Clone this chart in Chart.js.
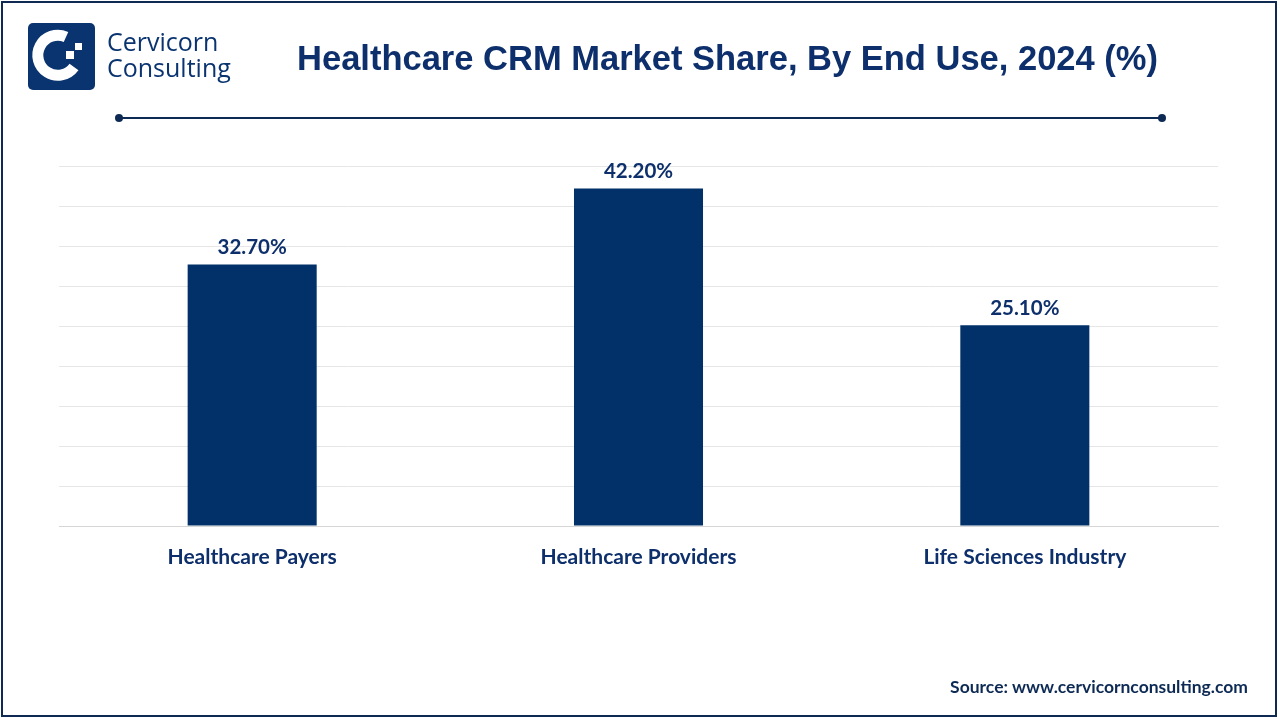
<!DOCTYPE html>
<html>
<head>
<meta charset="utf-8">
<script src="https://cdn.jsdelivr.net/npm/chart.js@4"></script>
<style>
  body { margin: 0; width: 1280px; height: 720px; background: #fff; overflow: hidden; }
  #frame { position: absolute; left: 1px; top: 1px; width: 1272px; height: 712px; border: 2px solid #0e2a52; }
  #chartBox { position: absolute; left: 0; top: 0; width: 1280px; height: 720px; }
  .logo { position: absolute; left: 28px; top: 23px; width: 67px; height: 67px; background: #0a3470; border-radius: 5px; }
  .logoText { position: absolute; left: 107px; top: 28px; font-family: "Open Sans", sans-serif; font-size: 25px; line-height: 26px; color: #0a3470; font-weight: 500; }
  .title { position: absolute; left: 0; width: 1455px; top: 39px; text-align: center; font-family: "Liberation Sans", Arial, sans-serif; font-weight: bold; font-size: 34.5px; color: #0d2f6b; }
  .rule { position: absolute; left: 119px; top: 117px; width: 1043px; height: 2px; background: #0d2a55; }
  .dot { position: absolute; top: 114px; width: 8px; height: 8px; border-radius: 50%; background: #0d2a55; }
  .source { position: absolute; right: 32px; top: 676px; font-family: Lato, sans-serif; font-weight: bold; font-size: 17.5px; color: #0d2a55; }
</style>
</head>
<body>
<div id="chartBox"><canvas id="chart" width="1280" height="720"></canvas></div>
<div id="frame"></div>
<div class="logo">
  <svg width="67" height="67" viewBox="0 0 67 67">
    <path d="M38 14 A20 20 0 1 0 46 44" fill="none" stroke="#fff" stroke-width="11"/>
    <rect x="38" y="28" width="8" height="8" fill="#fff"/>
    <rect x="47" y="20" width="7" height="7" fill="#fff"/>
  </svg>
</div>
<div class="logoText">Cervicorn<br>Consulting</div>
<div class="title">Healthcare CRM Market Share, By End Use, 2024 (%)</div>
<div class="rule"></div>
<div class="dot" style="left:115px"></div>
<div class="dot" style="left:1158px"></div>
<div class="source">Source: www.cervicornconsulting.com</div>

<script>
// données du graphique
let categories = ["Healthcare Payers", "Healthcare Providers", "Life Sciences Industry"];
let shares = [32.7, 42.2, 25.1];
let yMax = 45;
let yStep = 5;

// affiche les valeurs au-dessus des barres
const valueLabels = {
  id: 'valueLabels',
  afterDatasetsDraw(chart) {
    const ctx = chart.ctx;
    const meta = chart.getDatasetMeta(0);
    ctx.save();
    ctx.font = "bold 20.5px Lato, sans-serif";
    ctx.fillStyle = "#0d2f6b";
    ctx.textAlign = "center";
    ctx.textBaseline = "bottom";
    meta.data.forEach((bar, i) => {
      ctx.fillText(shares[i].toFixed(2) + "%", bar.x, bar.y - 7);
    });
    ctx.restore();
  }
};

let ctx = document.querySelector("#chart");

new Chart(ctx, {
  type: 'bar',
  data: {
    labels: categories,
    datasets: [{
      data: shares,
      backgroundColor: "#023069",
      categoryPercentage: 1,
      barPercentage: 0.334
    }]
  },
  options: {
    responsive: false,
    animation: false,
    layout: { padding: { left: 59, right: 62, top: 166, bottom: 0 } },
    plugins: { legend: { display: false }, tooltip: { enabled: false } },
    scales: {
      x: {
        grid: { display: false, drawTicks: false },
        border: { color: "#d6d6d6", width: 1 },
        ticks: {
          padding: 19,
          color: "#0d2f6b",
          font: { family: "Lato", size: 21, weight: "bold" }
        },
        afterFit(scale) { scale.height = 194; }
      },
      y: {
        min: 0,
        max: yMax,
        ticks: { display: false, stepSize: yStep },
        grid: { color: "#e6e6e6", drawTicks: false },
        border: { display: false }
      }
    }
  },
  plugins: [valueLabels]
});
</script>
</body>
</html>
